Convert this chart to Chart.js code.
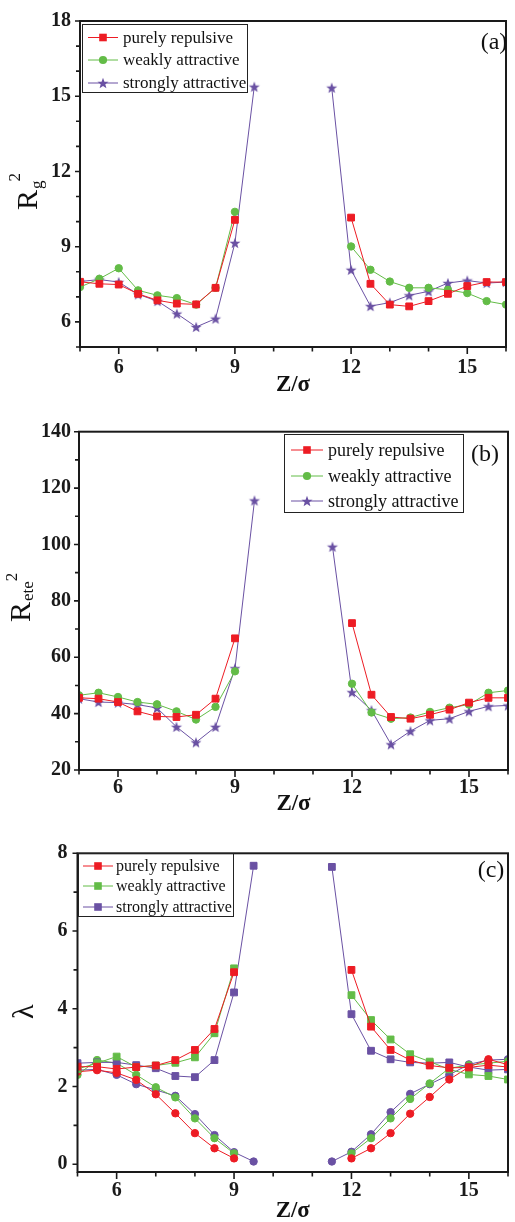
<!DOCTYPE html>
<html><head><meta charset="utf-8">
<script src="https://cdn.jsdelivr.net/npm/chart.js@4.4.1/dist/chart.umd.min.js"></script>
<style>
html,body{margin:0;padding:0;background:#fff;}
#wrap{position:relative;width:515px;height:1222px;overflow:hidden;background:#fff;}
.pane{position:absolute;left:0;width:515px;}
canvas{display:block;}
</style></head><body>
<div id="wrap">
<div class="pane" style="top:0;height:400px"><canvas id="ca" width="515" height="400"></canvas></div>
<div class="pane" style="top:400px;height:420px"><canvas id="cb" width="515" height="420"></canvas></div>
<div class="pane" style="top:820px;height:402px"><canvas id="cc" width="515" height="402"></canvas></div>
</div>
<script>
// ---------- data ----------
const zPos = [5,5.5,6,6.5,7,7.5,8,8.5,9,9.5,10,10.5,11,11.5,12,12.5,13,13.5,14,14.5,15,15.5,16];
const zTicks = [5,6,7,8,9,10,11,12,13,14,15,16];
const zLabels = [6,9,12,15];

// (a) Rg^2
const rgTicks = [5,6,7,8,9,10,11,12,13,14,15,16,17,18];
const rgLabels = [6,9,12,15,18];
const rgRepulsive = [7.60,7.52,7.49,7.12,6.86,6.73,6.70,7.36,10.07,null,null,null,null,null,10.16,7.52,6.69,6.62,6.83,7.12,7.43,7.59,7.59];
const rgWeak      = [7.39,7.72,8.14,7.26,7.06,6.95,6.69,7.36,10.39,null,null,null,null,null,9.01,8.08,7.61,7.36,7.36,7.28,7.15,6.83,6.69];
const rgStrong    = [7.61,7.69,7.59,7.10,6.83,6.33,5.80,6.13,9.15,15.38,null,null,null,15.34,8.08,6.63,6.77,7.06,7.22,7.55,7.65,7.55,7.59];

// (b) Rete^2
const reteTicks = [20,30,40,50,60,70,80,90,100,110,120,130,140];
const reteLabels = [20,40,60,80,100,120,140];
const reteRepulsive = [45.6,45.3,44.1,40.8,39.0,38.8,39.6,45.3,66.7,null,null,null,null,null,72.1,46.7,38.8,38.2,39.6,41.4,43.9,45.6,45.6];
const reteWeak      = [46.5,47.4,45.9,44.1,43.3,40.8,37.9,42.4,55.0,null,null,null,null,null,50.6,40.4,38.2,38.6,40.6,42.1,43.2,47.4,48.2];
const reteStrong    = [45.3,44.1,43.9,43.2,42.0,35.3,29.8,35.3,56.1,115.6,null,null,null,99.2,47.6,41.2,29.1,33.8,37.6,38.2,40.8,42.6,42.9];

// (c) lambda (squares and circles)
const lamTicks = [0,1,2,3,4,5,6,7,8];
const lamLabels = [0,2,4,6,8];
const lamRepSq   = [2.51,2.51,2.45,2.50,2.54,2.68,2.94,3.48,4.94,null,null,null,null,null,5.00,3.54,2.94,2.68,2.54,2.48,2.49,2.55,2.50];
const lamRepCi   = [2.38,2.42,2.35,2.17,1.80,1.31,0.80,0.41,0.15,null,null,null,null,null,0.15,0.41,0.80,1.30,1.73,2.18,2.50,2.70,2.56];
const lamWeakSq  = [2.45,2.60,2.77,2.50,2.54,2.61,2.75,3.37,5.04,null,null,null,null,null,4.35,3.71,3.21,2.83,2.64,2.44,2.31,2.27,2.18];
const lamWeakCi  = [2.30,2.68,2.60,2.30,1.98,1.72,1.18,0.67,0.28,null,null,null,null,null,0.28,0.67,1.18,1.68,2.08,2.47,2.55,2.60,2.65];
const lamStrSq   = [2.60,2.62,2.62,2.55,2.47,2.27,2.24,2.68,4.42,7.68,null,null,null,7.65,3.86,2.92,2.70,2.62,2.60,2.62,2.50,2.42,2.44];
const lamStrCi   = [2.42,2.44,2.30,2.06,1.91,1.76,1.29,0.75,0.31,0.07,null,null,null,0.07,0.32,0.77,1.34,1.81,2.06,2.30,2.57,2.68,2.70];

const seriesNames = ['purely repulsive','weakly attractive','strongly attractive'];

// ---------- styling ----------
const RED='#ed1c24', GREEN='#63bc47', PURPLE='#6a51a3';
const SERIF = "'Liberation Serif','Times New Roman',serif";

function starCanvas(color, R){
  const c=document.createElement('canvas'); const s=Math.ceil(R*2+2);
  c.width=s; c.height=s; const g=c.getContext('2d');
  g.fillStyle=color; g.beginPath();
  for(let i=0;i<10;i++){
    const r = i%2===0 ? R : R*0.42;
    const a = -Math.PI/2 + i*Math.PI/5;
    const x=s/2+r*Math.cos(a), y=s/2+r*Math.sin(a)+0.6;
    if(i===0) g.moveTo(x,y); else g.lineTo(x,y);
  }
  g.closePath(); g.fill();
  return c;
}
const starImg = starCanvas(PURPLE, 5.8);

function ds(label, vals, color, style, showLegend){
  const st = style==='star' ? starImg : style;
  const radius = style==='rect' ? 4.8 : (style==='circle' ? 3.7 : 5);
  return {
    label, legendShow: showLegend, markerStyle: style,
    data: zPos.map((z,i)=>({x:z, y:vals[i]})),
    borderColor: color, backgroundColor: color,
    pointBackgroundColor: color, pointBorderColor: color,
    pointBorderWidth: 1, borderWidth: 1,
    pointStyle: st, pointRadius: radius, spanGaps:false, tension:0
  };
}

function drawMarker(ctx, style, x, y, color){
  ctx.fillStyle=color;
  if(style==='rect'){ ctx.fillRect(x-3.8,y-3.8,7.6,7.6); }
  else if(style==='circle'){ ctx.beginPath(); ctx.arc(x,y,4.1,0,Math.PI*2); ctx.fill(); }
  else { ctx.drawImage(starImg, x-starImg.width/2, y-starImg.height/2); }
}

const decoPlugin = {
  id:'deco',
  afterDatasetsDraw(chart, args, o){
    const ctx=chart.ctx, a=chart.chartArea, xs=chart.scales.x, ys=chart.scales.y;
    const oy=o.offY;
    ctx.save();
    // frame
    ctx.strokeStyle='#1a1a1a'; ctx.lineWidth=2;
    ctx.strokeRect(a.left, a.top, a.right-a.left, a.bottom-a.top);
    // ticks
    ctx.lineWidth=1.6;
    ctx.beginPath();
    xs.ticks.forEach(t=>{
      const px=xs.getPixelForValue(t.value);
      const L = zLabels.includes(t.value) ? 7 : 4.5;
      ctx.moveTo(px,a.bottom); ctx.lineTo(px,a.bottom+L);
    });
    ys.ticks.forEach(t=>{
      const py=ys.getPixelForValue(t.value);
      const L = o.yMajor.includes(t.value) ? 5 : 4;
      ctx.moveTo(a.left,py); ctx.lineTo(a.left-L,py);
    });
    ctx.stroke();
    // legend
    const lg=o.legend;
    ctx.lineWidth=1; ctx.strokeStyle='#222';
    ctx.strokeRect(lg.x0+0.5, lg.y0-oy+0.5, lg.x1-lg.x0, lg.y1-lg.y0);
    const items = chart.data.datasets.filter(d=>d.legendShow);
    items.forEach((d,i)=>{
      const y=lg.rows[i]-oy;
      ctx.strokeStyle=d.borderColor; ctx.lineWidth=1;
      ctx.beginPath(); ctx.moveTo(lg.l0,y); ctx.lineTo(lg.l1,y); ctx.stroke();
      drawMarker(ctx, d.markerStyle, (lg.l0+lg.l1)/2, y, d.borderColor);
      ctx.fillStyle='#111'; ctx.font=lg.size+'px '+SERIF;
      ctx.textAlign='left'; ctx.textBaseline='middle';
      ctx.fillText(d.label, lg.tx, y+1);
    });
    // panel label
    ctx.fillStyle='#111'; ctx.font='24px '+SERIF; ctx.textAlign='center'; ctx.textBaseline='middle';
    ctx.fillText(o.panel.t, o.panel.x, o.panel.y-oy);
    // x title
    ctx.font='bold 23px '+SERIF; ctx.textAlign='center'; ctx.textBaseline='middle';
    ctx.fillText('Z/\u03c3', (a.left+a.right)/2, o.xTitleY-oy);
    // y title (rotated)
    const yt=o.yTitle;
    ctx.translate(yt.x, yt.y-oy); ctx.rotate(-Math.PI/2);
    ctx.textAlign='left'; ctx.textBaseline='alphabetic';
    ctx.font=yt.size+'px '+SERIF;
    ctx.fillText(yt.main,0,0);
    const w=ctx.measureText(yt.main).width;
    if(yt.sub){
      ctx.font=yt.subSize+'px '+SERIF;
      ctx.fillText(yt.sub, w+1, yt.subDy);
      const ws=ctx.measureText(yt.sub).width;
      ctx.fillText(yt.sup, w+ws+yt.supDx, yt.supDy);
    }
    ctx.restore();
  }
};

const tickFont = {family:SERIF, size:20, weight:'bold'};

function makeChart(id, datasets, cfg){
  return new Chart(document.getElementById(id), {
    type:'line',
    data:{datasets},
    options:{
      responsive:false, animation:false, events:[],
      layout:{padding:{top:cfg.padTop, right:cfg.padRight, left:0, bottom:0}},
      plugins:{legend:{display:false}, tooltip:{enabled:false}, deco:cfg.deco},
      scales:{
        x:{type:'linear', min:5, max:16,
           afterBuildTicks:s=>{ s.ticks = zTicks.map(v=>({value:v})); },
           afterFit:s=>{ s.height=cfg.xHeight; },
           grid:{display:false, drawTicks:false}, border:{display:false},
           ticks:{autoSkip:false, maxRotation:0, padding:cfg.xPad, font:tickFont, color:'#1a1a1a',
                  callback:v=> zLabels.includes(v) ? String(v) : ''}},
        y:{type:'linear', min:cfg.yMin, max:cfg.yMax,
           afterBuildTicks:s=>{ s.ticks = cfg.yTicks.map(v=>({value:v})); },
           afterFit:s=>{ s.width=cfg.yWidth; },
           grid:{display:false, drawTicks:false}, border:{display:false},
           ticks:{autoSkip:false, padding:cfg.yPad, font:tickFont, color:'#1a1a1a',
                  callback:v=> cfg.yLabels.includes(v) ? String(v) : ''}}
      }
    },
    plugins:[decoPlugin]
  });
}

// (a)
makeChart('ca', [
  ds(seriesNames[0], rgRepulsive, RED, 'rect', true),
  ds(seriesNames[1], rgWeak, GREEN, 'circle', true),
  ds(seriesNames[2], rgStrong, PURPLE, 'star', true)
], {padTop:18, padRight:1, xHeight:53, yWidth:80, xPad:9, yPad:9,
    yMin:5, yMax:18, yTicks:rgTicks, yLabels:rgLabels,
    deco:{offY:0, yMajor:rgLabels,
      legend:{x0:82,y0:24,x1:247,y1:92,rows:[37.5,60,83],l0:88,l1:118,tx:123,size:17},
      panel:{t:'(a)',x:494,y:43}, xTitleY:385,
      yTitle:{x:37,y:210,main:'R',size:30,sub:'g',subSize:17,subDy:5,sup:'2',supDx:0,supDy:-17}}});

// (b)
makeChart('cb', [
  ds(seriesNames[0], reteRepulsive, RED, 'rect', true),
  ds(seriesNames[1], reteWeak, GREEN, 'circle', true),
  ds(seriesNames[2], reteStrong, PURPLE, 'star', true)
], {padTop:31.7, padRight:7, xHeight:50, yWidth:79, xPad:6, yPad:8,
    yMin:20, yMax:140, yTicks:reteTicks, yLabels:reteLabels,
    deco:{offY:400, yMajor:reteLabels,
      legend:{x0:284,y0:434,x1:463,y1:512,rows:[450,476,501],l0:291,l1:323,tx:328,size:18},
      panel:{t:'(b)',x:485,y:455}, xTitleY:804,
      yTitle:{x:30,y:622,main:'R',size:30,sub:'ete',subSize:17,subDy:3,sup:'2',supDx:1,supDy:-13}}});

// (c)
makeChart('cc', [
  ds(seriesNames[0], lamRepSq, RED, 'rect', true),
  ds(seriesNames[1], lamWeakSq, GREEN, 'rect', true),
  ds(seriesNames[2], lamStrSq, PURPLE, 'rect', true),
  ds(seriesNames[0], lamRepCi, RED, 'circle', false),
  ds(seriesNames[1], lamWeakCi, GREEN, 'circle', false),
  ds(seriesNames[2], lamStrCi, PURPLE, 'circle', false)
], {padTop:33.3, padRight:3.5, xHeight:50, yWidth:77.5, xPad:7, yPad:10,
    yMin:-0.2, yMax:8, yTicks:lamTicks, yLabels:lamLabels,
    deco:{offY:820, yMajor:lamLabels,
      legend:{x0:78,y0:853,x1:233,y1:916,rows:[866,886,907],l0:83,l1:113,tx:116,size:16},
      panel:{t:'(c)',x:491,y:871}, xTitleY:1211,
      yTitle:{x:33,y:1019,main:'\u03bb',size:30}}});
</script>
</body></html>
